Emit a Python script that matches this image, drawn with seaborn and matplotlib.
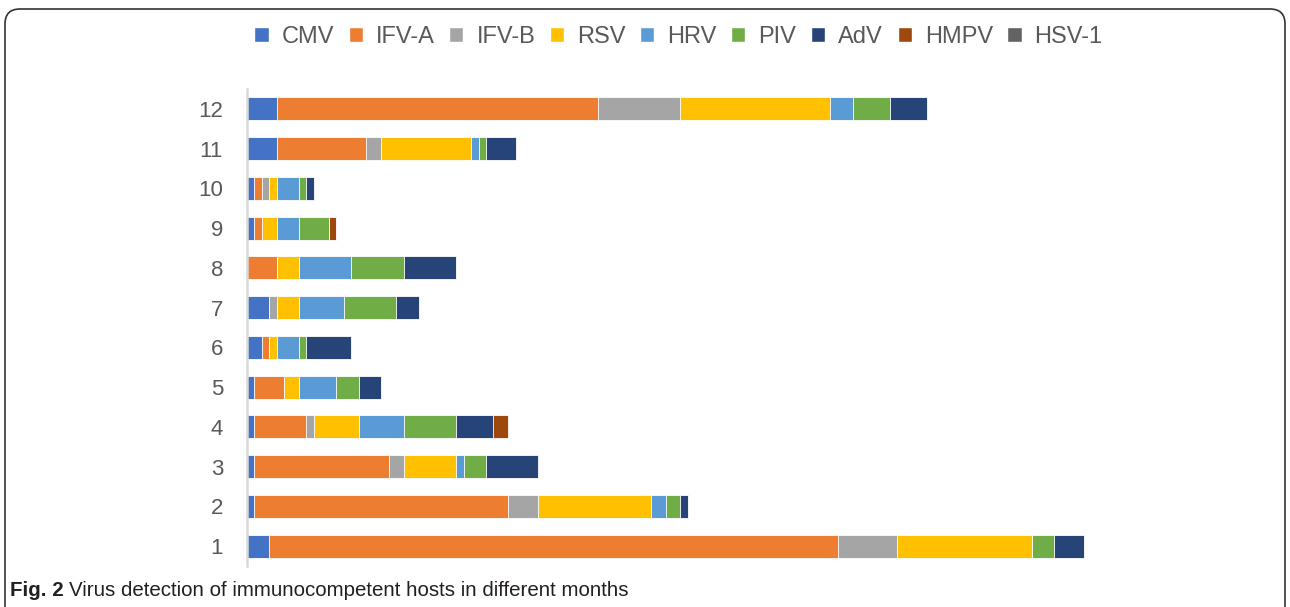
import pandas as pd
import matplotlib.pyplot as plt
import seaborn as sns
from matplotlib.patches import Patch, FancyBboxPatch

sns.set_theme(style="white")
plt.rcParams['font.family'] = ['Liberation Sans', 'DejaVu Sans']

# Datos (número de detecciones por mes)
meses = [str(m) for m in range(1, 13)]
virus = ["CMV", "IFV-A", "IFV-B", "RSV", "HRV", "PIV", "AdV", "HMPV", "HSV-1"]
colores = ["#4472C4", "#ED7D31", "#A5A5A5", "#FFC000", "#5B9BD5",
           "#70AD47", "#264478", "#9E480E", "#636363"]

cmv = [3, 1, 1, 1, 1, 2, 3, 0, 1, 1, 4, 4]
ifv_a = [76, 34, 18, 7, 4, 1, 0, 4, 1, 1, 12, 43]
ifv_b = [8, 4, 2, 1, 0, 0, 1, 0, 0, 1, 2, 11]
rsv = [18, 15, 7, 6, 2, 1, 3, 3, 2, 1, 12, 20]
hrv = [0, 2, 1, 6, 5, 3, 6, 7, 3, 3, 1, 3]
piv = [3, 2, 3, 7, 3, 1, 7, 7, 4, 1, 1, 5]
adv = [4, 1, 7, 5, 3, 6, 3, 7, 0, 1, 4, 5]
hmpv = [0, 0, 0, 2, 0, 0, 0, 0, 1, 0, 0, 0]
hsv_1 = [0, 0, 0, 0, 0, 0, 0, 0, 0, 0, 0, 0]

df = pd.DataFrame([cmv, ifv_a, ifv_b, rsv, hrv, piv, adv, hmpv, hsv_1],
                  index=virus, columns=meses).T
acumulado = df.cumsum(axis=1)
acumulado["mes"] = meses

fig = plt.figure(figsize=(12.9, 6.07), dpi=100)
ax = fig.add_axes([0.1912, 0.0675, 0.6958, 0.786])

# Barras apiladas: se dibujan los totales acumulados de mayor a menor
for v, c in reversed(list(zip(virus, colores))):
    sns.barplot(data=acumulado, x=v, y="mes", order=meses[::-1], orient="h",
                color=c, saturation=1, width=0.58, edgecolor="white",
                linewidth=0.6, ax=ax)

ax.set_xlim(0, 120)
ax.set_xticks([])
ax.set_xlabel("")
ax.set_ylabel("")
ax.tick_params(axis="y", length=0, pad=17, labelsize=16, labelcolor="#595959")
for s in ["top", "right", "bottom"]:
    ax.spines[s].set_visible(False)
ax.spines["left"].set_color("#D9D9D9")
ax.spines["left"].set_linewidth(1.8)

handles = [Patch(facecolor=c, label=v) for v, c in zip(virus, colores)]
fig.legend(handles=handles, loc="center", bbox_to_anchor=(0.526, 0.939),
           ncol=9, frameon=False, fontsize=17, handlelength=0.6,
           handleheight=0.6, handletextpad=0.55, columnspacing=0.62,
           labelcolor="#595959")

# Marco redondeado
marco = FancyBboxPatch((0.05, -0.3), 12.8, 6.28,
                       boxstyle="round,pad=0,rounding_size=0.15",
                       transform=fig.dpi_scale_trans, fill=False,
                       edgecolor="#333333", linewidth=1.2)
fig.add_artist(marco)

# Pie de figura
y_cap = 1 - 591 / 607
t1 = fig.text(10 / 1290, y_cap, "Fig. 2", fontweight="bold", fontsize=14.8,
              va="center", color="#231F20")
fig.canvas.draw()
bb = t1.get_window_extent()
fig.text((bb.x1 + 5) / 1290, y_cap,
         "Virus detection of immunocompetent hosts in different months",
         fontsize=14.8, va="center", color="#231F20")

fig.savefig("out.png", dpi=100)
